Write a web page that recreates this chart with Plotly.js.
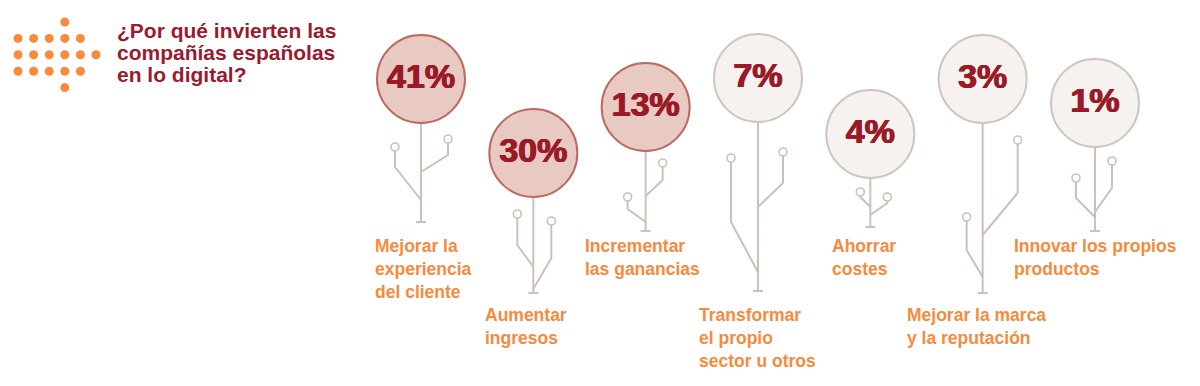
<!DOCTYPE html>
<html><head><meta charset="utf-8">
<script src="https://cdn.plot.ly/plotly-3.0.1.min.js"></script>
<style>html,body{margin:0;padding:0;background:#fff}#chart{width:1200px;height:386px}</style>
</head><body><div id="chart"></div>
<script>
// ---------- DATA ----------
const values = [41, 30, 13, 7, 4, 3, 1];
const labelLines = [
  ['Mejorar la', 'experiencia', 'del cliente'],
  ['Aumentar', 'ingresos'],
  ['Incrementar', 'las ganancias'],
  ['Transformar', 'el propio', 'sector u otros'],
  ['Ahorrar', 'costes'],
  ['Mejorar la marca', 'y la reputación'],
  ['Innovar los propios', 'productos']
];
const titleLines = ['¿Por qué invierten las', 'compañías españolas', 'en lo digital?'];

// ---------- LAYOUT (design positions, px) ----------
const firstX = 421, stepX = 112.33;
const bubbleY = [78, 152, 106, 77, 133, 78, 102];
const baseY = [222, 293, 231, 291, 227, 293, 231];
const labelX = [373, 483, 583, 697, 830, 905, 1012];
const labelRow = [0, 1, 0, 1, 0, 1, 0];
const rowTop = [234, 303];
// branch: [dxNode, yNode, yBend, yJoin]
const branchL = [[-26,147,167,200],[-16,214,245,267],[-18,197,209,222],[-27,158,222,272],[-10,192,197,207],[-16,217,250,277],[-19,178,198,217]];
const branchR = [[27,139,155,172],[18,221,258,289],[17,163,180,196],[25,152,183,207],[17,197,203,215],[35,140,193,235],[17,161,188,212]];
// icon dot grid [col,row]
const dotCols = [0,1,2,3,4, 0,1,2,3,4,5, 0,1,2,3,4, 3,3];
const dotRows = [1,1,1,1,1, 2,2,2,2,2,2, 3,3,3,3,3, 0,4];

const R = 44; // bubble radius
const FONT = '"Liberation Sans", Arial, sans-serif';
const NUMCOLOR = '#9A1B27';
const cx = values.map((v, i) => firstX + i * stepX);

// ---------- build traces ----------
const lx = [], ly = [];
const nx = [], ny = [];
values.forEach((v, i) => {
  const x = cx[i];
  lx.push(x, x, null); ly.push(bubbleY[i] + R, baseY[i], null);
  lx.push(x - 5, x + 5, null); ly.push(baseY[i], baseY[i], null);
  [branchL[i], branchR[i]].forEach(b => {
    lx.push(x + b[0], x + b[0], x, null);
    ly.push(b[1], b[2], b[3], null);
    nx.push(x + b[0]); ny.push(b[1]);
  });
});

const stemColor = '#CBC1BA';
const hi = values.map(v => v >= 10);

const traces = [
  { type: 'scatter', mode: 'lines', x: lx, y: ly, line: { color: stemColor, width: 2 }, hoverinfo: 'skip' },
  { type: 'scatter', mode: 'markers', x: nx, y: ny,
    marker: { size: 8, color: '#ffffff', line: { color: stemColor, width: 1.6 } }, hoverinfo: 'skip' },
  { type: 'scatter', mode: 'markers+text', x: cx, y: bubbleY.map(y => y + 1),
    text: values.map(v => v + '%'), textposition: 'middle center',
    textfont: { family: FONT, size: 34, color: NUMCOLOR, weight: 700,
      shadow: `0.6px 0 0 ${NUMCOLOR}, -0.6px 0 0 ${NUMCOLOR}, 0 0.5px 0 ${NUMCOLOR}` },
    marker: { size: 2 * R, color: hi.map(h => h ? '#E8CAC3' : '#F5F2EF'),
      line: { color: hi.map(h => h ? '#BD6A60' : '#CFC6BF'), width: 2 } },
    hoverinfo: 'skip' },
  { type: 'scatter', mode: 'markers',
    x: dotCols.map(c => 18 + c * 15.6), y: dotRows.map(r => 22 + r * 16.4),
    marker: { size: 9, color: '#F68B3C' }, hoverinfo: 'skip' }
];

const annotations = [];
labelLines.forEach((lines, i) => {
  annotations.push({
    x: labelX[i], y: rowTop[labelRow[i]], xref: 'x', yref: 'y',
    xanchor: 'left', yanchor: 'top', align: 'left', showarrow: false,
    text: lines.join('<br>'),
    font: { family: FONT, size: 17.5, color: '#F58B3E', weight: 700 }
  });
});
titleLines.forEach((t, k) => {
  annotations.push({
    x: 115, y: 30 + k * 22, xref: 'x', yref: 'y',
    xanchor: 'left', yanchor: 'middle', align: 'left', showarrow: false,
    text: t,
    font: { family: FONT, size: 21, color: '#9A1B2E', weight: 700 }
  });
});

const layout = {
  width: 1200, height: 386,
  margin: { l: 0, r: 0, t: 0, b: 0 },
  paper_bgcolor: '#ffffff', plot_bgcolor: '#ffffff',
  showlegend: false, hovermode: false,
  xaxis: { range: [0, 1200], visible: false, fixedrange: true },
  yaxis: { range: [386, 0], visible: false, fixedrange: true },
  annotations: annotations
};

Plotly.newPlot('chart', traces, layout, { staticPlot: true, displayModeBar: false });
</script>
</body></html>
